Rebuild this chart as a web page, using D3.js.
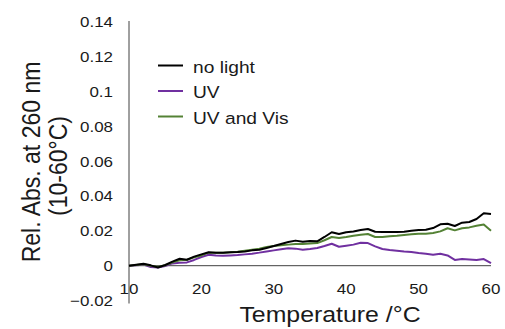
<!DOCTYPE html>
<html>
  <head>
    <meta charset="utf-8">
    <style>
      body { margin: 0; background: #fff; }
      text { font-family: "Liberation Sans", Arial, sans-serif; fill: #1a1a1a; }
    </style>
  </head>
  <body>
    <script src="https://d3js.org/d3.v7.min.js"></script>
    <script>
    var width = 505, height = 329;

    // temperature in degC, one reading per degree
    var temps = d3.range(10, 61);
    var noLight = [0, 0.0006, 0.0011, 0.0002, -0.001, 0.0004, 0.0023, 0.004, 0.0034, 0.0052,
      0.0065, 0.0077, 0.0075, 0.0075, 0.0077, 0.0079, 0.0082, 0.0088, 0.0092, 0.0102,
      0.0113, 0.0125, 0.0136, 0.0144, 0.0138, 0.0142, 0.014, 0.0165, 0.0192, 0.0182,
      0.0192, 0.0197, 0.0205, 0.0211, 0.0195, 0.0194, 0.0194, 0.0194, 0.0195, 0.0201,
      0.0205, 0.0207, 0.0216, 0.0238, 0.0241, 0.0228, 0.0247, 0.0251, 0.0268, 0.0301, 0.0297];
    var uv = [0, 0.0002, 0.0006, -0.0008, -0.0011, -0.0002, 0.0013, 0.0017, 0.0019, 0.0033,
      0.005, 0.0063, 0.0059, 0.0057, 0.0059, 0.0061, 0.0065, 0.0069, 0.0075, 0.0082,
      0.0088, 0.0094, 0.01, 0.0098, 0.0092, 0.0096, 0.0102, 0.0113, 0.0126, 0.0109,
      0.0115, 0.0121, 0.0132, 0.013, 0.0111, 0.0096, 0.009, 0.0086, 0.0082, 0.0079,
      0.0073, 0.0069, 0.0063, 0.0069, 0.0059, 0.0033, 0.0038, 0.0036, 0.0033, 0.0038, 0.0015];
    var uvVis = [0, 0.0004, 0.0008, 0, -0.0008, 0.0002, 0.0019, 0.0031, 0.0034, 0.0048,
      0.0059, 0.0075, 0.0075, 0.0075, 0.0077, 0.008, 0.0086, 0.0092, 0.0098, 0.0107,
      0.0113, 0.0117, 0.0121, 0.0125, 0.0125, 0.0128, 0.013, 0.0146, 0.0165, 0.0159,
      0.0165, 0.0172, 0.0178, 0.0182, 0.0165, 0.0165, 0.0169, 0.0172, 0.0176, 0.018,
      0.0184, 0.0184, 0.0188, 0.0197, 0.0215, 0.0203, 0.0215, 0.022, 0.023, 0.0236, 0.0201];

    var seriesNames = ["no light", "UV", "UV and Vis"];
    var seriesColors = ["#000000", "#7030a0", "#548235"];
    var yTicks = [-0.02, 0, 0.02, 0.04, 0.06, 0.08, 0.1, 0.12, 0.14];
    var xTicks = [10, 20, 30, 40, 50, 60];

    var sx = 1.13; // text in the picture is a bit wider than tall

    var svg = d3.select("body")
        .append("svg")
        .attr("width", width)
        .attr("height", height);

    var x = d3.scaleLinear().domain([10, 60]).range([129, 491]);
    var y = d3.scaleLinear().domain([-0.02, 0.14]).range([300.5, 22]);

    function label(px, py, str, size, anchor, rot) {
      return svg.append("text")
          .attr("transform", "translate(" + px + "," + py + ") scale(" + sx + ",1)" + (rot ? " rotate(-90)" : ""))
          .attr("text-anchor", anchor)
          .style("font-size", size + "px")
          .text(str);
    }

    // axes
    svg.append("line")
        .attr("x1", x(10)).attr("x2", x(10))
        .attr("y1", y(0.14) - 1).attr("y2", y(-0.02) + 3)
        .attr("stroke", "#404040").attr("stroke-width", 1);
    svg.append("line")
        .attr("x1", x(10)).attr("x2", x(60))
        .attr("y1", y(0)).attr("y2", y(0))
        .attr("stroke", "#404040").attr("stroke-width", 1);

    yTicks.forEach(function(t) {
      label(113, y(t) + 5.3, d3.format("")(+t.toFixed(2)), 15, "end");
    });
    xTicks.forEach(function(t) {
      label(x(t), 293.5, t, 15, "middle");
    });

    // lines
    var all = [noLight, uv, uvVis];
    var line = d3.line()
        .x(function(d, i) { return x(temps[i]); })
        .y(function(d) { return y(d); });

    [1, 2, 0].forEach(function(k) {
      svg.append("path")
          .datum(all[k])
          .attr("fill", "none")
          .attr("stroke", seriesColors[k])
          .attr("stroke-width", 2)
          .attr("stroke-linejoin", "round")
          .attr("d", line);
    });

    // legend
    seriesNames.forEach(function(name, i) {
      var ly = 65.5 + i * 25.5;
      svg.append("line")
          .attr("x1", 158).attr("x2", 183)
          .attr("y1", ly).attr("y2", ly)
          .attr("stroke", seriesColors[i]).attr("stroke-width", 2);
      label(193, ly + 7, name, 17, "start");
    });

    // titles
    label(330, 322, "Temperature /\u00b0C", 22, "middle");
    label(40, 162, "Rel. Abs. at 260 nm", 23, "middle", true);
    label(67, 166, "(10-60\u00b0C)", 23, "middle", true);
    </script>
  </body>
</html>
